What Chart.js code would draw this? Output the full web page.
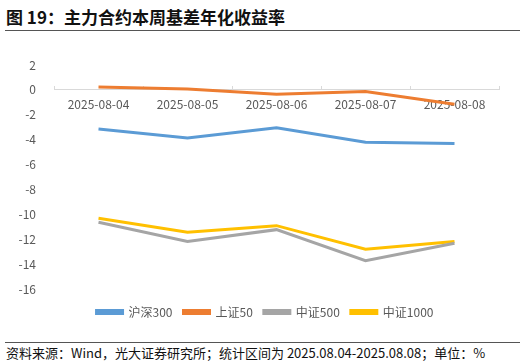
<!DOCTYPE html>
<html><head><meta charset="utf-8">
<script src="https://cdn.jsdelivr.net/npm/chart.js@4"></script>
<style>
html,body{margin:0;padding:0;background:#fff;width:530px;height:364px;overflow:hidden;font-family:"Noto Sans CJK SC","Noto Sans",sans-serif;}
#title{position:absolute;left:6px;top:4px;font-size:17px;font-weight:bold;color:#111;white-space:nowrap;}
#tline{position:absolute;left:5px;top:30px;width:515px;height:0;border-top:1.5px solid #555;}
#fline{position:absolute;left:5px;top:342px;width:515px;height:0;border-top:1.5px solid #555;}
#foot{position:absolute;left:6px;top:343px;font-size:13px;color:#111;white-space:nowrap;}
#wrap{position:absolute;left:0;top:0;width:530px;height:328px;}
</style></head><body>
<div id="title">图 19：主力合约本周基差年化收益率</div>
<div id="tline"></div>
<div id="wrap"><canvas id="c"></canvas></div>
<div id="fline"></div>
<div id="foot">资料来源：Wind，光大证券研究所；统计区间为 2025.08.04-2025.08.08；单位：%</div>
<script>
const categories = ["2025-08-04","2025-08-05","2025-08-06","2025-08-07","2025-08-08"];
const hs300  = [-3.15, -3.86, -3.05, -4.20, -4.31];
const sz50   = [0.24, 0.08, -0.35, -0.13, -1.15];
const zz500  = [-10.64, -12.19, -11.23, -13.72, -12.33];
const zz1000 = [-10.32, -11.44, -10.91, -12.81, -12.19];
const seriesNames = ["沪深300","上证50","中证500","中证1000"];
const yTicks = {min:-16, max:2, step:2};

const colors = ["#5B9BD5","#ED7D31","#A5A5A5","#FFC000"];
const font = "'Noto Sans CJK SC','Noto Sans',sans-serif";
const mk = (i, d) => ({label: seriesNames[i], data: d, borderColor: colors[i], backgroundColor: colors[i],
  borderWidth: 3, pointRadius: 0, tension: 0, fill: false});

new Chart(document.getElementById('c'), {
  type: 'line',
  data: { labels: categories, datasets: [mk(0,hs300), mk(1,sz50), mk(2,zz500), mk(3,zz1000)] },
  options: {
    responsive: true, maintainAspectRatio: false, animation: false,
    layout: { padding: { top: 65, right: 0, left: 0, bottom: 0 } },
    plugins: {
      tooltip: {enabled:false},
      legend: { position: 'bottom',
        labels: { boxWidth: 26, boxHeight: 3, color: '#595959', font: {family: font, size: 12}, padding: 11 } }
    },
    scales: {
      x: { position: {y: 0}, offset: true,
        grid: { drawOnChartArea: false, offset: true, color: '#D9D9D9', tickLength: -4, tickColor:'#D9D9D9' },
        border: { color: '#D9D9D9', width: 1 },
        ticks: { color: '#595959', font: {family: font, size: 12}, maxRotation: 0, padding: 11 } },
      x2: { type: 'linear', position: 'bottom',
        afterFit: s => { s.height = 6; },
        grid: { display: false }, border: { display: false }, ticks: { display: false } },
      y: { min: yTicks.min, max: yTicks.max,
        afterFit: s => { s.width = 54; },
        grid: { display: false }, border: { display: false },
        ticks: { stepSize: yTicks.step, color: '#595959', font: {family: font, size: 12}, padding: 10 } },
      y2: { position: 'right', min: yTicks.min, max: yTicks.max,
        afterFit: s => { s.width = 31; },
        grid: { display: false }, border: { display: false },
        ticks: { display: false } }
    }
  }
});
</script>
</body></html>
